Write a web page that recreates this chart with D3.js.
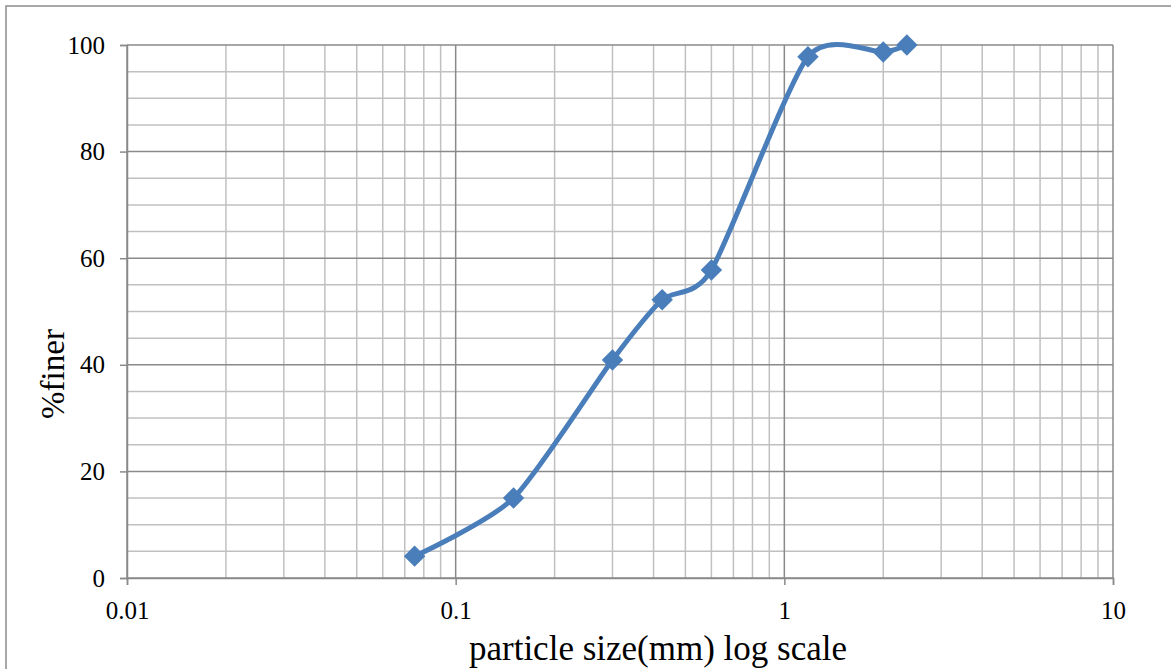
<!DOCTYPE html>
<html>
<head>
<meta charset="utf-8">
<script src="https://cdn.jsdelivr.net/npm/d3@7"></script>
<style>
    body { margin: 0; background: #fff; }
    text { font-family: 'Liberation Serif', 'Times New Roman', serif; fill: #000; }
</style>
</head>
<body>
<svg id="chart"></svg>
<script>
// sieve analysis readings
const sizes = [0.075, 0.15, 0.3, 0.425, 0.6, 1.18, 2.0, 2.36]
const finer = [4.1, 15.0, 40.9, 52.2, 57.8, 97.8, 98.7, 100]
const xTicks = [0.01, 0.1, 1, 10]
const yTicks = [0, 20, 40, 60, 80, 100]

const width = 1171
const height = 669
const margin = { top: 45, right: 58, bottom: 91, left: 127 }
const innerW = width - margin.left - margin.right
const innerH = height - margin.top - margin.bottom

const svg = d3.select('#chart').attr('width', width).attr('height', height)

// outer chart frame runs past the right and bottom edge
svg.append('rect')
    .attr('x', 6).attr('y', 6)
    .attr('width', 1300).attr('height', 800)
    .attr('fill', 'none').attr('stroke', '#8c8c8c').attr('stroke-width', 1.5)

const x = d3.scaleLog().domain([0.01, 10]).range([0, innerW])
const y = d3.scaleLinear().domain([0, 100]).range([innerH, 0])

const g = svg.append('g').attr('transform', `translate(${margin.left},${margin.top})`)

// minor grid: 2..9 in each decade, every 5 %
const minorX = []
for (let e = -2; e < 1; e++)
    for (let m = 2; m <= 9; m++) minorX.push(m * Math.pow(10, e))
const minorY = d3.range(5, 100, 5).filter(v => v % 20 !== 0)

const grid = g.append('g').attr('class', 'grid')
grid.selectAll('line.mx').data(minorX).enter().append('line')
    .attr('x1', d => x(d)).attr('x2', d => x(d))
    .attr('y1', 0).attr('y2', innerH)
    .attr('stroke', '#c0c0c0').attr('stroke-width', 1.5)
grid.selectAll('line.my').data(minorY).enter().append('line')
    .attr('x1', 0).attr('x2', innerW)
    .attr('y1', d => y(d)).attr('y2', d => y(d))
    .attr('stroke', '#c0c0c0').attr('stroke-width', 1.5)
grid.selectAll('line.Mx').data(xTicks).enter().append('line')
    .attr('x1', d => x(d)).attr('x2', d => x(d))
    .attr('y1', 0).attr('y2', innerH)
    .attr('stroke', '#8a8a8a').attr('stroke-width', 1.5)
grid.selectAll('line.My').data(yTicks).enter().append('line')
    .attr('x1', 0).attr('x2', innerW)
    .attr('y1', d => y(d)).attr('y2', d => y(d))
    .attr('stroke', '#8a8a8a').attr('stroke-width', 1.5)

// axes
const xAxis = g.append('g')
    .attr('transform', `translate(0,${innerH})`)
    .call(d3.axisBottom(x).tickValues(xTicks).tickFormat(d3.format('')).tickSize(7).tickPadding(16))
const yAxis = g.append('g')
    .call(d3.axisLeft(y).tickValues(yTicks).tickSize(7).tickPadding(15))

;[xAxis, yAxis].forEach(ax => {
    ax.attr('font-family', null).attr('font-size', null)
    ax.select('.domain').attr('stroke', '#8a8a8a').attr('stroke-width', 1.5)
    ax.selectAll('.tick line').attr('stroke', '#8a8a8a').attr('stroke-width', 1.5)
    ax.selectAll('.tick text')
        .attr('font-family', "'Liberation Serif', 'Times New Roman', serif")
        .attr('font-size', 25).attr('fill', '#000')
})

// smoothed line like the spreadsheet one
const pts = sizes.map((s, i) => [s, finer[i]])
const line = d3.line()
    .x(d => x(d[0]))
    .y(d => y(d[1]))
    .curve(d3.curveCardinal.tension(0.3))

g.append('path')
    .datum(pts)
    .attr('d', line)
    .attr('fill', 'none')
    .attr('stroke', '#4a7ebb')
    .attr('stroke-width', 5)
    .attr('stroke-linejoin', 'round')

// diamond markers
g.selectAll('path.marker').data(pts).enter().append('path')
    .attr('class', 'marker')
    .attr('d', d3.symbol().type(d3.symbolSquare).size(230))
    .attr('transform', d => `translate(${x(d[0])},${y(d[1])}) rotate(45)`)
    .attr('fill', '#4a7ebb')

// titles
svg.append('text')
    .attr('x', 658)
    .attr('y', 660)
    .attr('text-anchor', 'middle')
    .attr('font-size', 35)
    .text('particle size(mm) log scale')

svg.append('text')
    .attr('transform', `translate(64,374) rotate(-90)`)
    .attr('text-anchor', 'middle')
    .attr('font-size', 33)
    .text('%finer')
</script>
</body>
</html>
